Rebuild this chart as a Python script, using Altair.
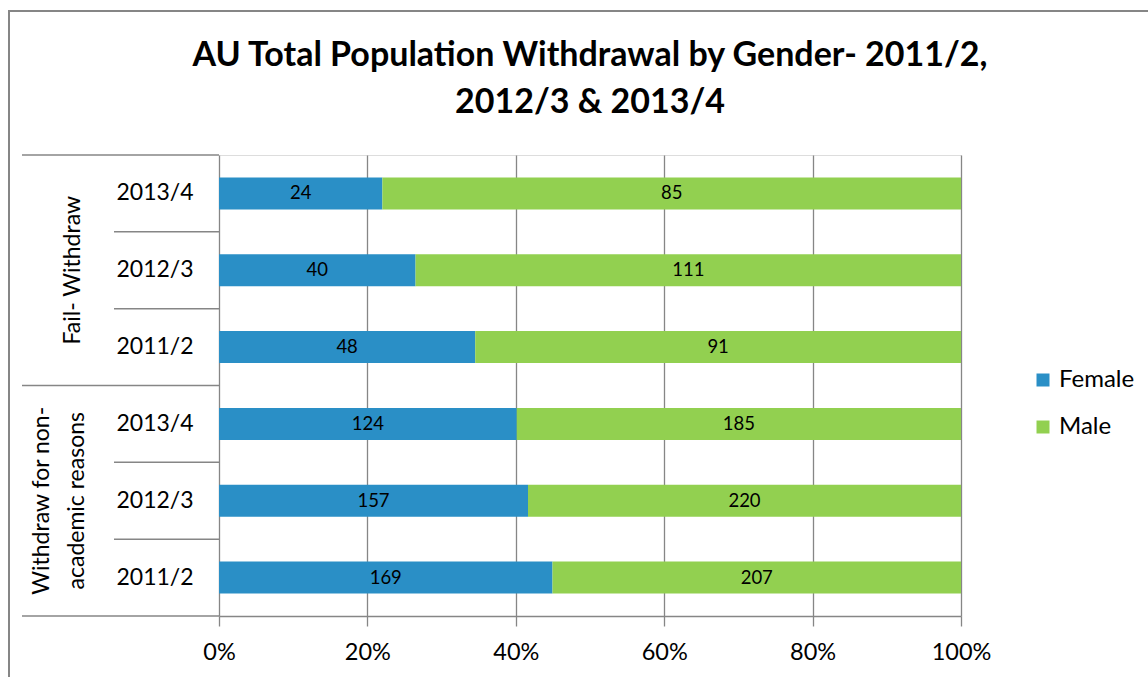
import altair as alt
import pandas as pd

groups = ["Fail- Withdraw", "Fail- Withdraw", "Fail- Withdraw",
          "Withdraw for non-academic reasons", "Withdraw for non-academic reasons", "Withdraw for non-academic reasons"]
years = ["2013/4", "2012/3", "2011/2", "2013/4", "2012/3", "2011/2"]
female = [24, 40, 48, 124, 157, 169]
male = [85, 111, 91, 185, 220, 207]
genders = ["Female", "Male"]
colors = ["#2A8FC6", "#92D050"]
ticks = [0, 0.2, 0.4, 0.6, 0.8, 1.0]
title_lines = ["AU Total Population Withdrawal by Gender- 2011/2,", "2012/3 & 2013/4"]

row_keys = [f"{g}|{y}" for g, y in zip(groups, years)]

recs = []
for k, g, y, f, m in zip(row_keys, groups, years, female, male):
    recs.append({"row": k, "group": g, "year": y, "gender": "Female", "count": f, "order": 0})
    recs.append({"row": k, "group": g, "year": y, "gender": "Male", "count": m, "order": 1})
df = pd.DataFrame(recs)
rows_df = pd.DataFrame({"row": row_keys, "year": years,
                        "sep": ["long", "short", "short", "long", "short", "short"]})

FONT = "Lato"
W, H = 742, 461
GRID = "#868686"

yenc = alt.Y("row:N", sort=row_keys, axis=None,
             scale=alt.Scale(paddingInner=0, paddingOuter=0))

base = alt.Chart(df).transform_stack(
    stack="count", groupby=["row"], as_=["x0", "x1"], offset="normalize",
    sort=[alt.SortField("order", order="ascending")]
)

bars = base.mark_bar(size=32).encode(
    x=alt.X("x0:Q", scale=alt.Scale(domain=[0, 1]),
            axis=alt.Axis(values=ticks, format=".0%", title=None, grid=True,
                          gridColor=GRID, gridWidth=1.3, domainColor=GRID, domainWidth=1.5,
                          tickColor=GRID, tickSize=10, tickWidth=1.3,
                          labelFontSize=23.5, labelFont=FONT, labelColor="#000000",
                          labelPadding=14, labelFlush=False)),
    x2="x1:Q",
    y=yenc,
    color=alt.Color("gender:N", scale=alt.Scale(domain=genders, range=colors),
                    legend=alt.Legend(title=None, orient="none", legendX=812, legendY=213,
                                      symbolType="square", symbolSize=169, symbolStrokeWidth=0,
                                      labelFontSize=24, labelFont=FONT, labelColor="#000000",
                                      rowPadding=23, padding=0, labelOffset=4)),
)

labels = base.transform_calculate(mid="(datum.x0 + datum.x1) / 2").mark_text(
    fontSize=18.5, font=FONT, color="#000000"
).encode(x="mid:Q", y=yenc, text="count:Q")

rows_base = alt.Chart(rows_df)
year_text = rows_base.mark_text(fontSize=23, font=FONT, color="#000000").encode(
    x=alt.value(-64), y=yenc, text="year:N")

sep_short = rows_base.transform_filter(alt.datum.sep == "short").mark_rule(
    color=GRID, strokeWidth=1.5, yOffset=-38.4).encode(
    y=yenc, x=alt.value(-105), x2=alt.value(0))
sep_long = rows_base.transform_filter(alt.datum.sep == "long").mark_rule(
    color=GRID, strokeWidth=1.5, yOffset=-38.4).encode(
    y=yenc, x=alt.value(-197), x2=alt.value(0))

one = alt.Chart(pd.DataFrame({"a": [0]}))
sep_bottom = one.mark_rule(color=GRID, strokeWidth=1.5).encode(
    y=alt.value(H), x=alt.value(-197), x2=alt.value(0))
border = one.mark_rect(fill=None, stroke=GRID, strokeWidth=2).encode(
    x=alt.value(-210), x2=alt.value(1000), y=alt.value(-144), y2=alt.value(600))
title = one.mark_text(fontSize=34, font=FONT, fontWeight="bold", color="#000000",
                      align="center", baseline="alphabetic", lineHeight=47).encode(
    x=alt.value(W / 2), y=alt.value(-89), text=alt.value(title_lines))

g1 = rows_base.transform_filter("indexof(datum.row, 'Fail') == 0").transform_filter(
    alt.datum.year == "2012/3")
grp1 = g1.mark_text(fontSize=23, font=FONT, angle=270, color="#000000").encode(
    x=alt.value(-146), y=yenc, text=alt.value("Fail- Withdraw"))
g2 = rows_base.transform_filter("indexof(datum.row, 'Withdraw for') == 0").transform_filter(
    alt.datum.year == "2012/3")
grp2 = g2.mark_text(fontSize=23, font=FONT, angle=270, color="#000000",
                    lineHeight=35, baseline="middle").encode(
    x=alt.value(-177), y=yenc, text=alt.value(["Withdraw for non-", "academic reasons"]))

chart = alt.layer(
    border, title, bars, labels, year_text, sep_short, sep_long, sep_bottom, grp1, grp2
).properties(
    width=W, height=H,
    autosize=alt.AutoSizeParams(type="none"),
    padding={"left": 219, "top": 155, "right": 187, "bottom": 61},
).configure_view(stroke=None).configure(background="white")

chart.save("out.html", embed_options={"renderer": "svg", "actions": False})
